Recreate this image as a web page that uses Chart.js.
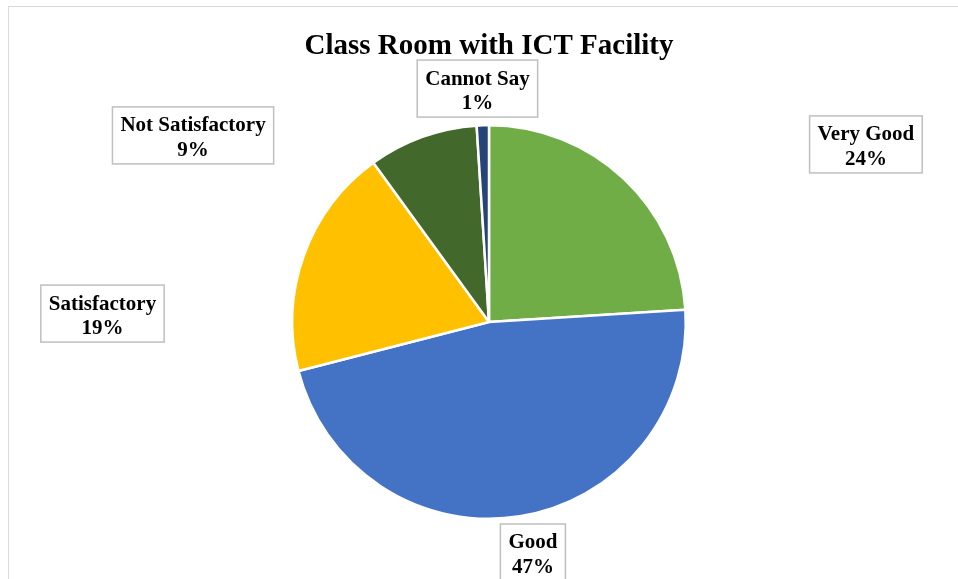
<!DOCTYPE html>
<html>
<head>
<meta charset="utf-8">
<script src="https://cdn.jsdelivr.net/npm/chart.js@4/dist/chart.umd.min.js"></script>
<style>
html,body{margin:0;padding:0;background:#fff;}
#wrap{width:958px;height:579px;position:relative;}
</style>
</head>
<body>
<div id="wrap"><canvas id="c" width="958" height="579"></canvas></div>
<script>
const chartTitle = 'Class Room with ICT Facility';
const categories = ['Very Good', 'Good', 'Satisfactory', 'Not Satisfactory', 'Cannot Say'];
const values = [24, 47, 19, 9, 1];
const colors = ['#70AD47', '#4472C4', '#FFC000', '#43682B', '#264478'];
// label box centres, in multiples of the pie radius from the pie centre
const labelOffsets = [[1.923, -0.906], [0.224, 1.176], [-1.972, -0.043], [-1.510, -0.952], [-0.059, -1.191]];

const FONT = '"Liberation Serif", "Times New Roman", serif';

const decor = {
  id: 'decor',
  beforeDraw(chart) {
    const ctx = chart.ctx;
    ctx.save();
    ctx.fillStyle = '#fff';
    ctx.fillRect(0, 0, chart.width, chart.height);
    ctx.strokeStyle = '#d9d9d9';
    ctx.lineWidth = 1;
    ctx.strokeRect(8.5, 6.5, 1000, 1000);
    ctx.restore();
  },
  afterDraw(chart) {
    const ctx = chart.ctx;
    const meta = chart.getDatasetMeta(0);
    const arc0 = meta.data[0];
    const cx = arc0.x, cy = arc0.y, r = 196;
    const total = values.reduce((a, b) => a + b, 0);
    ctx.save();
    ctx.fillStyle = '#000';
    ctx.textAlign = 'center';
    ctx.textBaseline = 'alphabetic';
    ctx.font = 'bold 29px ' + FONT;
    ctx.fillText(chartTitle, 489, 54);
    ctx.font = 'bold 21px ' + FONT;
    categories.forEach((name, i) => {
      const pct = Math.round(values[i] / total * 100) + '%';
      const bx = cx + labelOffsets[i][0] * r;
      const by = cy + labelOffsets[i][1] * r;
      const w = Math.max(ctx.measureText(name).width, ctx.measureText(pct).width) + 16;
      const h = 57;
      ctx.fillStyle = '#fff';
      ctx.fillRect(bx - w / 2, by - h / 2, w, h);
      ctx.strokeStyle = '#bfbfbf';
      ctx.lineWidth = 1.5;
      ctx.strokeRect(bx - w / 2, by - h / 2, w, h);
      ctx.fillStyle = '#000';
      ctx.fillText(name, bx, by - 4);
      ctx.fillText(pct, bx, by + 20.5);
    });
    ctx.restore();
  }
};

new Chart(document.getElementById('c'), {
  type: 'pie',
  data: {
    labels: categories,
    datasets: [{
      data: values,
      backgroundColor: colors,
      borderColor: '#ffffff',
      borderWidth: 2.5
    }]
  },
  options: {
    responsive: false,
    animation: false,
    layout: { padding: { top: 124, bottom: 59, left: 20, right: 0 } },
    plugins: { legend: { display: false }, tooltip: { enabled: false }, title: { display: false } }
  },
  plugins: [decor]
});
</script>
</body>
</html>
